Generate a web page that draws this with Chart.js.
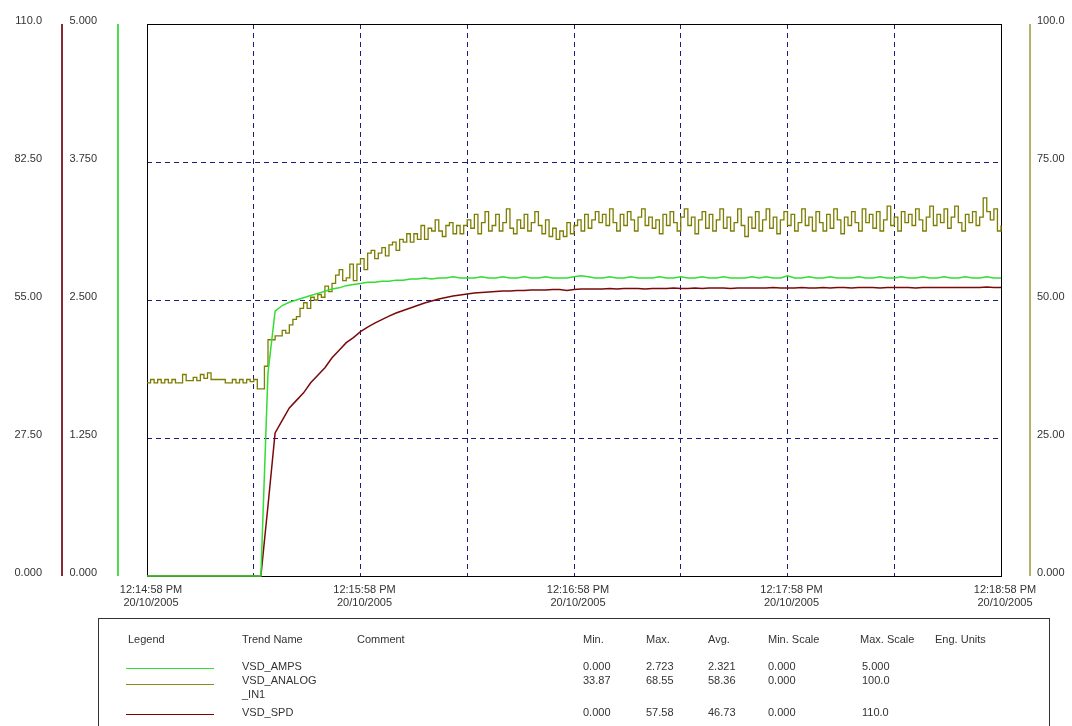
<!DOCTYPE html>
<html>
<head>
<meta charset="utf-8">
<title>VSD trend</title>
<script src="https://cdn.jsdelivr.net/npm/chart.js@4.4.0/dist/chart.umd.min.js"></script>
<style>
    body { margin: 0; background: #fff; font-family: "Liberation Sans", Arial, sans-serif; }
    #wrap { position: absolute; left: 0; top: 0; width: 1072px; height: 620px; }
    #legendBox { position: absolute; left: 98px; top: 618px; width: 950px; height: 120px;
                 border: 1px solid #333; border-bottom: none; font-size: 11px; color: #333; }
    #legendBox span { position: absolute; white-space: nowrap; }
    .swatch { position: absolute; height: 1px; width: 88px; }
</style>
</head>
<body>
<div id="wrap"><canvas id="trendChart" width="1072" height="620"></canvas></div>
<div id="legendBox"></div>

<script>
// Sample times (seconds after 12:14:58 PM)
const seconds = Array.from({ length: 121 }, (_, i) => i * 2);        // every 2 s
const analogSeconds = Array.from({ length: 241 }, (_, i) => i);      // every 1 s

// VSD_AMPS (0 - 5.000), every 2 s
const vsdAmps = [
    0, 0, 0, 0, 0, 0, 0, 0, 0, 0, 0, 0, 0, 0, 0, 0, 0,
    1.84, 2.40, 2.45, 2.48, 2.50, 2.52, 2.54, 2.56, 2.58, 2.60, 2.61, 2.63, 2.64, 2.65,
    2.66, 2.66, 2.67, 2.67, 2.68, 2.68, 2.69, 2.69, 2.70, 2.69, 2.70, 2.70, 2.71, 2.70, 2.70,
    2.70, 2.71, 2.70, 2.70, 2.71, 2.70, 2.70, 2.71, 2.70, 2.70,
    2.71, 2.70, 2.70, 2.70, 2.71, 2.72, 2.71, 2.70, 2.70, 2.71,
    2.70, 2.70, 2.71, 2.70, 2.70, 2.70, 2.71, 2.70, 2.70, 2.71,
    2.70, 2.70, 2.71, 2.70, 2.70, 2.71, 2.70, 2.70, 2.70, 2.71,
    2.70, 2.71, 2.70, 2.70, 2.72, 2.70, 2.70, 2.71, 2.70, 2.70,
    2.71, 2.70, 2.70, 2.70, 2.71, 2.70, 2.70, 2.71, 2.70, 2.70,
    2.71, 2.70, 2.70, 2.71, 2.70, 2.70, 2.71, 2.70, 2.70, 2.71,
    2.70, 2.70, 2.71, 2.70, 2.70
];

// VSD_ANALOG_IN1 (0 - 100.0), every 1 s
const vsdAnalog = [
    35.0, 35.6, 35.0, 35.6, 35.0, 35.6, 35.0, 35.6, 35.0, 35.0,
    36.5, 35.4, 35.4, 36.0, 35.4, 36.5, 35.8, 36.8, 35.6, 35.6,
    35.6, 35.6, 35.0, 35.0, 35.6, 35.0, 35.6, 35.0, 35.6, 35.2,
    35.6, 33.9, 33.9,
    38.0, 42.8, 42.8, 43.5, 43.5, 44.5, 44.0, 45.5, 46.5, 47.0,
    48.5, 49.5, 48.5, 50.5, 50.0, 51.0, 50.5, 52.5, 51.5, 53.0,
    54.5, 55.5, 53.5, 54.0, 56.5, 53.5, 56.5, 57.5, 55.5, 58.5,
    59.0, 57.5, 58.5, 59.5, 58.0, 60.0, 60.5, 59.0, 61.0, 60.5,
    62.0, 60.5, 62.0, 61.0, 63.5, 61.0, 63.0, 62.5, 64.5, 62.5,
    61.5, 63.5, 64.0, 62.0, 63.5, 62.0, 63.5, 64.5,
    63.0, 65.5, 62.0, 64.0, 66.0, 62.5, 63.5, 65.5, 62.5, 64.0,
    66.5, 63.0, 62.0, 64.5, 63.0, 65.5, 62.5, 64.0, 66.0, 63.5,
    62.0, 64.5, 61.5, 63.0, 61.0, 62.5, 61.5, 64.0, 62.0, 63.5,
    64.5, 62.5, 65.5, 63.0, 64.5, 66.0, 64.0, 65.5, 63.5, 66.5,
    64.0, 62.5, 65.5, 63.5, 66.0, 64.5, 62.5, 65.0, 66.5, 63.5,
    65.0, 63.0, 64.5, 62.0, 65.5, 63.5, 66.0, 64.0, 62.5, 65.0,
    66.5, 63.5, 65.0, 62.0, 64.5, 66.0, 63.0, 65.5, 62.5, 64.5,
    66.5, 63.0, 65.0, 62.5, 64.0, 66.5, 63.5, 61.5, 65.0, 63.0,
    66.0, 62.5, 64.5, 66.5, 63.0, 65.0, 62.0, 64.5, 66.0, 63.5,
    65.5, 62.5, 64.0, 66.5, 63.5, 65.0, 62.5, 66.0, 64.0, 62.5,
    65.5, 63.0, 66.5, 64.5, 62.0, 65.0, 63.5, 66.0, 64.0, 62.5,
    66.5, 64.0, 65.5, 63.0, 66.0, 62.5, 64.5, 67.0, 63.5, 65.0,
    62.5, 66.0, 64.0, 65.5, 63.5, 66.5, 64.5, 62.5, 65.0, 67.0,
    63.5, 65.5, 64.0, 66.5, 63.0, 65.0, 67.0, 64.0, 62.5, 65.5,
    64.0, 66.0, 63.5, 65.0, 68.5, 66.0, 64.5, 66.5, 62.5, 63.5
];

// VSD_SPD (0 - 110.0), every 2 s
const vsdSpd = [
    0, 0, 0, 0, 0, 0, 0, 0, 0, 0, 0, 0, 0, 0, 0, 0, 0,
    14.0, 28.5, 31.0, 33.5, 35.0, 36.5, 38.5, 40.0, 41.5, 43.5, 45.0, 46.5, 47.5, 48.7,
    49.6, 50.4, 51.1, 51.8, 52.4, 52.9, 53.4, 53.9, 54.4, 54.8, 55.2, 55.5, 55.8, 56.0, 56.2,
    56.4, 56.5, 56.6, 56.7, 56.8, 56.8, 56.9, 56.9, 57.0, 57.0,
    57.0, 57.1, 57.1, 56.9, 57.1, 57.2, 57.2, 57.2, 57.2, 57.3,
    57.2, 57.3, 57.3, 57.3, 57.2, 57.3, 57.3, 57.3, 57.4, 57.3,
    57.3, 57.4, 57.3, 57.4, 57.4, 57.4, 57.3, 57.4, 57.4, 57.4,
    57.4, 57.4, 57.5, 57.4, 57.4, 57.4, 57.5, 57.4, 57.4, 57.5,
    57.4, 57.5, 57.5, 57.4, 57.5, 57.5, 57.5, 57.4, 57.5, 57.5,
    57.5, 57.5, 57.4, 57.5, 57.5, 57.5, 57.5, 57.5, 57.5, 57.5,
    57.5, 57.5, 57.6, 57.5, 57.5
];

// Axis tick labels
const spdTicks = ['0.000', '27.50', '55.00', '82.50', '110.0'];
const ampsTicks = ['0.000', '1.250', '2.500', '3.750', '5.000'];
const analogTicks = ['0.000', '25.00', '50.00', '75.00', '100.0'];
const timeLabels = ['12:14:58 PM', '12:15:58 PM', '12:16:58 PM', '12:17:58 PM', '12:18:58 PM'];
const dateLabel = '20/10/2005';

// Legend table
const trendNames = [['VSD_AMPS'], ['VSD_ANALOG', '_IN1'], ['VSD_SPD']];
const trendColors = ['#33dd33', '#8f8a1c', '#800000'];
const minValues = ['0.000', '33.87', '0.000'];
const maxValues = ['2.723', '68.55', '57.58'];
const avgValues = ['2.321', '58.36', '46.73'];
const minScales = ['0.000', '0.000', '0.000'];
const maxScales = ['5.000', '100.0', '110.0'];

const gridColor = '#1c1c7a';
const gridDash = [5, 4];
const clear = 'rgba(0,0,0,0)';

// Plot frame and the coloured axis bars
const framePlugin = {
    id: 'frame',
    beforeDatasetsDraw(chart) {
        const { ctx, chartArea: a } = chart;
        ctx.save();
        ctx.lineWidth = 1;
        ctx.strokeStyle = '#000';
        ctx.strokeRect(Math.round(a.left) + 0.5, Math.round(a.top) + 0.5,
            Math.round(a.right - a.left), Math.round(a.bottom - a.top));
        ctx.restore();
    },
    afterDraw(chart) {
        const { ctx, chartArea: a, scales } = chart;
        const bars = [
            [scales.ySpd.right - 2, '#8a2a34'],
            [scales.yAmps.right - 29, '#4cdc4c'],
            [scales.yAnalog.left + 29, '#b3b36a']
        ];
        ctx.save();
        ctx.lineWidth = 2;
        bars.forEach(([x, color]) => {
            ctx.strokeStyle = color;
            ctx.beginPath();
            ctx.moveTo(Math.round(x), a.top);
            ctx.lineTo(Math.round(x), a.bottom);
            ctx.stroke();
        });
        ctx.restore();
    }
};

function toPoints(times, values) {
    return times.map((t, i) => ({ x: t, y: values[i] }));
}

// hide the grid lines that sit on the frame
function innerGrid(ctx) {
    const n = ctx.scale.ticks.length;
    return (ctx.index === 0 || ctx.index === n - 1) ? clear : gridColor;
}

document.addEventListener('DOMContentLoaded', () => {
    initializeChart();
    buildLegend();
});

function initializeChart() {
    Chart.defaults.font.family = '"Liberation Sans", Arial, sans-serif';
    Chart.defaults.font.size = 11;
    Chart.defaults.color = '#333';

    const ctx = document.getElementById('trendChart').getContext('2d');
    new Chart(ctx, {
        type: 'line',
        data: {
            datasets: [{
                label: 'VSD_AMPS',
                data: toPoints(seconds, vsdAmps),
                yAxisID: 'yAmps',
                borderColor: '#33dd33',
                borderWidth: 1.5,
                pointRadius: 0,
                tension: 0,
                clip: 3
            }, {
                label: 'VSD_ANALOG_IN1',
                data: toPoints(analogSeconds, vsdAnalog),
                yAxisID: 'yAnalog',
                borderColor: '#7d7d00',
                borderWidth: 1.3,
                pointRadius: 0,
                stepped: true,
                clip: 3
            }, {
                label: 'VSD_SPD',
                data: toPoints(seconds, vsdSpd),
                yAxisID: 'ySpd',
                borderColor: '#7a0a0a',
                borderWidth: 1.5,
                pointRadius: 0,
                tension: 0,
                clip: 3
            }]
        },
        options: {
            responsive: false,
            animation: false,
            layout: { autoPadding: false, padding: { top: 24, bottom: 4, left: 0, right: 0 } },
            plugins: {
                legend: { display: false },
                tooltip: { enabled: false }
            },
            scales: {
                x: {
                    type: 'linear',
                    min: 0,
                    max: 240,
                    afterFit: (scale) => { scale.height = 40; },
                    grid: { color: innerGrid, drawTicks: false },
                    border: { display: false, dash: gridDash },
                    ticks: {
                        stepSize: 30,
                        autoSkip: false,
                        maxRotation: 0,
                        padding: 7,
                        labelOffset: 4,
                        color: '#333',
                        callback: (value, index) =>
                            index % 2 === 0 ? [timeLabels[index / 2], dateLabel] : ''
                    }
                },
                yAmps: {
                    position: 'left',
                    weight: 0,
                    min: 0,
                    max: 5,
                    afterFit: (scale) => { scale.width = 83; },
                    // long invisible tick marks push the labels away from the frame
                    grid: { color: innerGrid, drawTicks: true, tickLength: 49, tickColor: clear },
                    border: { display: false, dash: gridDash },
                    ticks: {
                        stepSize: 1.25,
                        padding: 1,
                        labelOffset: -3,
                        callback: (value, index) => ampsTicks[index]
                    }
                },
                ySpd: {
                    position: 'left',
                    weight: 1,
                    min: 0,
                    max: 110,
                    afterFit: (scale) => { scale.width = 64; },
                    grid: { drawOnChartArea: false, drawTicks: true, tickLength: 21, tickColor: clear },
                    border: { display: false },
                    ticks: {
                        stepSize: 27.5,
                        padding: 1,
                        labelOffset: -3,
                        callback: (value, index) => spdTicks[index]
                    }
                },
                yAnalog: {
                    position: 'right',
                    min: 0,
                    max: 100,
                    afterFit: (scale) => { scale.width = 71; },
                    grid: { drawOnChartArea: false, drawTicks: true, tickLength: 35, tickColor: clear },
                    border: { display: false },
                    ticks: {
                        stepSize: 25,
                        padding: 1,
                        labelOffset: -3,
                        callback: (value, index) => analogTicks[index]
                    }
                }
            }
        },
        plugins: [framePlugin]
    });
}

// Legend table under the chart
function addText(box, text, left, top) {
    const span = document.createElement('span');
    span.textContent = text;
    span.style.left = left + 'px';
    span.style.top = top + 'px';
    box.appendChild(span);
}

function buildLegend() {
    const box = document.getElementById('legendBox');
    const headers = ['Legend', 'Trend Name', 'Comment', 'Min.', 'Max.', 'Avg.', 'Min. Scale', 'Max. Scale', 'Eng. Units'];
    const headerX = [29, 143, 258, 484, 547, 609, 669, 761, 836];
    headers.forEach((h, i) => addText(box, h, headerX[i], 14));

    const rowTops = [41, 55, 87];
    const swatchTops = [49, 65, 95];
    trendNames.forEach((lines, i) => {
        const sw = document.createElement('div');
        sw.className = 'swatch';
        sw.style.left = '27px';
        sw.style.top = swatchTops[i] + 'px';
        sw.style.background = trendColors[i];
        box.appendChild(sw);

        lines.forEach((line, j) => addText(box, line, 143, rowTops[i] + j * 14));
        addText(box, minValues[i], 484, rowTops[i]);
        addText(box, maxValues[i], 547, rowTops[i]);
        addText(box, avgValues[i], 609, rowTops[i]);
        addText(box, minScales[i], 669, rowTops[i]);
        addText(box, maxScales[i], 763, rowTops[i]);
    });
}
</script>
</body>
</html>
